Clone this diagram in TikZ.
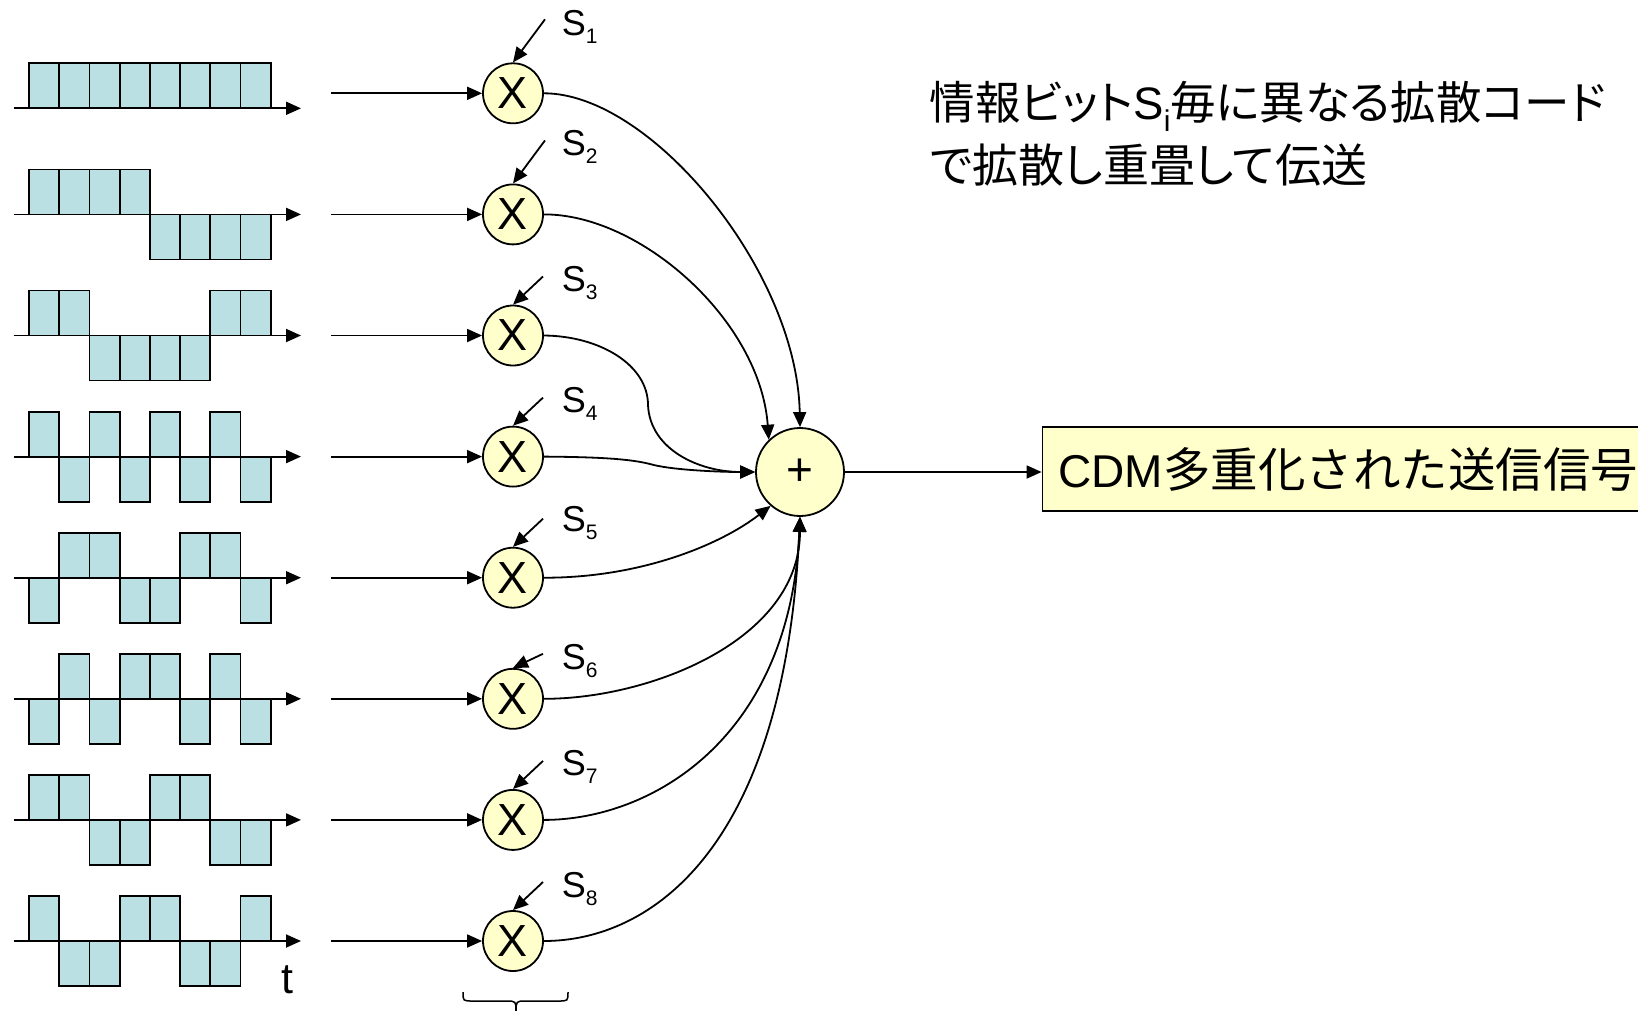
\documentclass[tikz,border=0pt]{standalone}
\usepackage{fontspec}
\setmainfont{Liberation Sans}
\newfontfamily\jp[RawFeature=+palt]{Noto Sans CJK JP}
\newfontfamily\jpw{Noto Sans CJK JP}
\usetikzlibrary{arrows.meta}
\definecolor{chipcol}{RGB}{187,224,227}
\definecolor{lyellow}{RGB}{255,255,204}
\newcommand\mywave[3]{%
  \foreach \s [count=\k from 0] in {#3} {%
    \filldraw[chip] ({29+\k*30.2},#1) rectangle ++(30.2,{-#2*\s});
  }%
  \draw[arr] (13.5,#1) -- (301,#1);
}
\begin{document}
\begin{tikzpicture}[x=1pt,y=-1pt,line width=1.8pt,
  arr/.style={-{Triangle[length=15pt,width=13pt]}},
  chip/.style={fill=chipcol,draw=black,line width=1.8pt},
  mult/.style={circle,draw,fill=lyellow,minimum size=60pt,inner sep=0pt,font=\fontsize{45}{45}\selectfont},
  adder/.style={circle,draw,fill=lyellow,minimum size=88pt,inner sep=0pt,font=\fontsize{46}{46}\selectfont},
  slabel/.style={anchor=base west,inner sep=0pt,font=\fontsize{36}{36}\selectfont},
  outbox/.style={draw,fill=lyellow,anchor=west,text width=590pt,inner xsep=16pt,inner ysep=0pt,minimum height=84pt,align=left},
  curve/.style={arr}]
\clip (0,0) rectangle (1638,1010);
% waveforms
\mywave{108.3}{45.6}{1,1,1,1,1,1,1,1}
\mywave{214.4}{45}{1,1,1,1,-1,-1,-1,-1}
\mywave{335.5}{45}{1,1,-1,-1,-1,-1,1,1}
\mywave{456.6}{45}{1,-1,1,-1,1,-1,1,-1}
\mywave{577.7}{45}{-1,1,1,-1,-1,1,1,-1}
\mywave{698.8}{45}{-1,1,-1,1,1,-1,1,-1}
\mywave{819.9}{45}{1,1,-1,-1,1,1,-1,-1}
\mywave{941}{45}{1,-1,-1,1,1,-1,-1,1}
\node[anchor=base,inner sep=0pt,font=\fontsize{43}{43}\selectfont] (tlab) at (287.5,993) {t};
% multipliers
\foreach \i/\lb/\as/\ax in {1/58/74/545,2/59/74/545,3/44/59/543,4/44/59/543,5/46/59/543,6/29/45/543,7/44/59/543,8/44/59/543}{
  \pgfmathsetmacro\cy{93.3+(\i-1)*121.1}
  \node[mult] (m\i) at (513,\cy) {X};
  \coordinate (in\i) at (331,\cy);
  \draw[arr] (in\i) -- (m\i.west);
  \coordinate (sa\i) at (\ax,\cy-\as);
  \draw[arr] (sa\i) -- (m\i.north);
  \node[slabel] (s\i) at (561,\cy-\lb) {S\raisebox{-8pt}{\fontsize{21}{21}\selectfont\i}};
}
% adder
\node[adder] (p) at (800,472) {\raisebox{-3pt}{+}};
\draw[curve] (m1.east) .. controls (650,93) and (797,270) .. (p.north);
\draw[curve] (m2.east) .. controls (640,214) and (760,320) .. (p.134);
\draw[curve] (m3.east) .. controls (600,336) and (648,365) .. (648,405) .. controls (650,450) and (700,472) .. (p.west);
\draw[curve] (m4.east) .. controls (600,457) and (630,459) .. (650,464) .. controls (670,470) and (720,472) .. (p.west);
\draw[curve] (m5.east) .. controls (640,578) and (720,545) .. (p.229);
\draw[curve] (m6.east) .. controls (650,699) and (800,640) .. (p.south);
\draw[curve] (m7.east) .. controls (650,820) and (790,740) .. (p.south);
\draw[curve] (m8.east) .. controls (650,941) and (785,850) .. (p.south);
% output
\node[outbox] (out) at (1041.6,469) {\fontsize{46}{50}\selectfont CDM{\jpw\fontsize{47.5}{48}\selectfont 多重化された送信信号}};
\draw[arr] (p.east) -- (p.east -| out.west);
% description
\node[anchor=base west,inner sep=0pt,font=\fontsize{45.5}{46}\selectfont] (t1) at (929,119.5) {{\jp 情報ビット}S\raisebox{-12pt}{\fontsize{30}{30}\selectfont i}{\jp 毎に異なる拡散コード}};
\node[anchor=base west,inner sep=0pt,font=\fontsize{46}{46}\selectfont] (t2) at (929,182.5) {{\jp で拡散し重畳して伝送}};
% brace
\draw[line width=1.5pt] (463,992) .. controls (463,1001) .. (473,1001) -- (506,1001) .. controls (516,1001) .. (516,1012);
\draw[line width=1.5pt] (568,992) .. controls (568,1001) .. (558,1001) -- (526,1001) .. controls (516,1001) .. (516,1012);
\end{tikzpicture}
\end{document}
